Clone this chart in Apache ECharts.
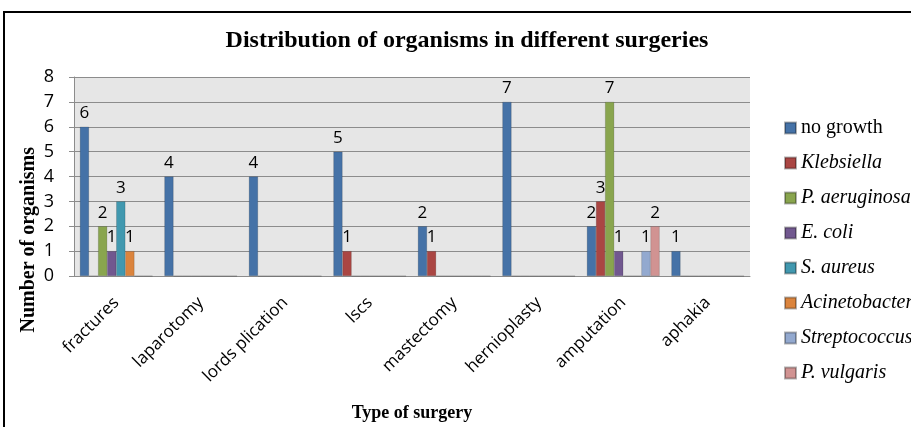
<!DOCTYPE html>
<html>
<head>
<meta charset="utf-8">
<script src="https://cdn.jsdelivr.net/npm/echarts@6/dist/echarts.min.js"></script>
<style>
  html, body { margin: 0; padding: 0; background: #fff; }
  #frame { position: absolute; left: 3px; top: 11px; width: 940px; height: 440px; border: 2px solid #000; box-sizing: border-box; }
  #chart { position: absolute; left: 0; top: 0; width: 911px; height: 427px; }
</style>
</head>
<body>
<div id="frame"></div>
<div id="chart"></div>
<script>
const surgeries = ['fractures', 'laparotomy', 'lords plication', 'lscs', 'mastectomy', 'hernioplasty', 'amputation', 'aphakia'];
const organisms = ['no growth', 'Klebsiella', 'P. aeruginosa', 'E. coli', 'S. aureus', 'Acinetobacter', 'Streptococcus', 'P. vulgaris'];
const noGrowth      = [6, 4, 4, 5, 2, 7, 2, 1];
const klebsiella    = [0, 0, 0, 1, 1, 0, 3, 0];
const pAeruginosa   = [2, 0, 0, 0, 0, 0, 7, 0];
const eColi         = [1, 0, 0, 0, 0, 0, 1, 0];
const sAureus       = [3, 0, 0, 0, 0, 0, 0, 0];
const acinetobacter = [1, 0, 0, 0, 0, 0, 0, 0];
const streptococcus = [0, 0, 0, 0, 0, 0, 1, 0];
const pVulgaris     = [0, 0, 0, 0, 0, 0, 2, 0];
const yTicks = [0, 8, 1];

const values = [noGrowth, klebsiella, pAeruginosa, eColi, sAureus, acinetobacter, streptococcus, pVulgaris];
const colors = ['#4572A7', '#AA4643', '#89A54E', '#71588F', '#4198AF', '#DB843D', '#93A9CF', '#D19392'];

let myChart = echarts.init(document.querySelector('#chart'), null, { renderer: 'canvas' });

const series = organisms.map((name, i) => ({
  name: name,
  type: 'bar',
  barGap: '0%',
  barCategoryGap: '14%',
  data: values[i],
  itemStyle: { color: colors[i], borderColor: 'rgba(0,0,0,0.3)', borderWidth: 0.5 },
  label: {
    show: true,
    position: 'top',
    distance: 5,
    fontFamily: 'Open Sans',
    fontSize: 17,
    color: '#000',
    formatter: p => (p.value ? String(p.value) : '')
  }
}));

let option = {
  animation: false,
  title: {
    text: 'Distribution of organisms in different surgeries',
    left: 462,
    textAlign: 'center',
    top: 24,
    textStyle: { fontFamily: 'Liberation Serif', fontWeight: 'bold', fontSize: 24, color: '#000' }
  },
  legend: {
    orient: 'vertical',
    left: 779,
    top: 113,
    itemWidth: 11,
    itemHeight: 11,
    itemGap: 15,
    icon: 'rect',
    data: organisms,
    formatter: name => name === 'no growth' ? '{n|' + name + '}' : '{i|' + name + '}',
    textStyle: {
      fontFamily: 'Liberation Serif',
      fontSize: 20,
      color: '#000',
      rich: {
        n: { fontFamily: 'Liberation Serif', fontSize: 20, color: '#000' },
        i: { fontFamily: 'Liberation Serif', fontSize: 20, fontStyle: 'italic', color: '#000' }
      }
    }
  },
  grid: {
    left: 74, right: 161, top: 77, bottom: 151,
    show: true, backgroundColor: '#e6e6e6', borderWidth: 0
  },
  xAxis: {
    type: 'category',
    data: surgeries,
    name: 'Type of surgery',
    nameLocation: 'middle',
    nameGap: 128,
    nameTextStyle: { fontFamily: 'Liberation Serif', fontWeight: 'bold', fontSize: 18, color: '#000' },
    axisLine: { lineStyle: { color: '#8c8c8c', width: 1 } },
    axisTick: { length: 5, lineStyle: { color: '#8c8c8c' } },
    axisLabel: { rotate: 45, margin: 24, fontFamily: 'Open Sans', fontSize: 17, color: '#000' }
  },
  yAxis: {
    type: 'value',
    min: yTicks[0], max: yTicks[1], interval: yTicks[2],
    axisLine: { show: true, lineStyle: { color: '#8c8c8c' } },
    axisTick: { show: true, length: 5, lineStyle: { color: '#8c8c8c' } },
    axisLabel: { fontFamily: 'Open Sans', fontSize: 18, color: '#000', margin: 20 },
    splitLine: { lineStyle: { color: '#8c8c8c', width: 1 } }
  },
  graphic: [{
    type: 'text',
    left: 19,
    top: 147,
    rotation: Math.PI / 2,
    style: {
      text: 'Number of organisms',
      font: 'bold 20px "Liberation Serif"',
      fill: '#000'
    }
  }],
  series: series
};

myChart.setOption(option);
</script>
</body>
</html>
